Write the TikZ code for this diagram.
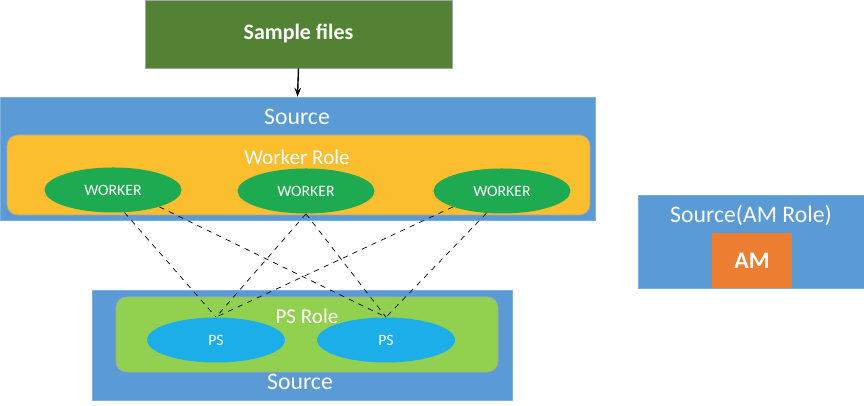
\documentclass[tikz,border=0pt]{standalone}
\usepackage{fontspec}
\setmainfont{Carlito}
\usepackage{xcolor}
\usepackage{tikz}
\usetikzlibrary{arrows.meta,positioning,shapes.geometric}
\definecolor{srcblue}{HTML}{5B9BD5}
\definecolor{filegreen}{HTML}{548235}
\definecolor{wrkgold}{HTML}{FBBE2E}
\definecolor{wrkgreen}{HTML}{1DAA50}
\definecolor{psgreen}{HTML}{92D050}
\definecolor{psblue}{HTML}{1CAEE9}
\definecolor{amorange}{HTML}{ED7D31}

\begin{document}
\begin{tikzpicture}[
      srcbox/.style={fill=srcblue, draw=srcblue!80!white, inner sep=0pt},
      rolebox/.style={draw=black!35, rounded corners=6pt, inner sep=0pt},
      wrk/.style={ellipse, fill=wrkgreen, inner sep=0pt,
                  minimum width=2.74cm, minimum height=0.9cm,
                  font=\fontsize{9}{10}\selectfont, text=white},
      ps/.style={ellipse, fill=psblue, inner sep=0pt,
                 minimum width=2.76cm, minimum height=0.9cm,
                 font=\fontsize{9}{10}\selectfont, text=white},
      lbl/.style={text=white, font=\fontsize{13.5}{15}\selectfont},
      link/.style={dashed, thin, black}
  ]
    \useasboundingbox (0,0) rectangle (17.28,8.12);
    % input files
    \node[draw=black!35, fill=filegreen, minimum width=6.14cm, minimum height=1.36cm,
          text=white, font=\fontsize{12.5}{14}\selectfont\bfseries] (files) at (5.97,7.44) {Sample files};
    % worker side
    \node[srcbox, minimum width=11.9cm, minimum height=2.46cm] (srcTop) at (5.95,4.95) {};
    \node[lbl] (srcTopLbl) at (5.94,5.78) {Source};
    \node[rolebox, fill=wrkgold, minimum width=11.66cm, minimum height=1.6cm] (wrkRole) at (5.97,4.62) {};
    \node[lbl, font=\fontsize{12}{14}\selectfont] (wrkRoleLbl) at (5.94,4.98) {Worker Role};
    \node[wrk] (w1) at (2.26,4.32)  {WORKER};
    \node[wrk] (w2) at (6.12,4.30)  {WORKER};
    \node[wrk] (w3) at (10.04,4.30) {WORKER};
    % ps side
    \node[srcbox, minimum width=8.4cm, minimum height=2.2cm] (srcBot) at (6.04,1.22) {};
    \node[lbl] (srcBotLbl) at (6.0,0.48) {Source};
    \node[rolebox, fill=psgreen, minimum width=7.64cm, minimum height=1.5cm] (psRole) at (6.14,1.43) {};
    \node[lbl, font=\fontsize{12}{14}\selectfont] (psRoleLbl) at (6.14,1.80) {PS Role};
    \node[ps] (p1) at (4.32,1.32) {PS};
    \node[ps] (p2) at (7.72,1.32) {PS};
    % am
    \node[srcbox, minimum width=4.52cm, minimum height=1.86cm] (srcAm) at (15.02,3.29) {};
    \node[lbl] (srcAmLbl) at (15.02,3.82) {Source(AM Role)};
    \node[fill=amorange, minimum width=1.6cm, minimum height=1.1cm, inner sep=0pt,
          text=white, font=\fontsize{13.5}{15}\selectfont\bfseries] (am) at (15.04,2.91) {AM};
    % links
    \draw[-{Stealth[length=5pt]}, thick] (files.south) -- (srcTop.north);
    \draw[link] (w1.-63)  -- (p1.north);
    \draw[link] (w1.-20)  -- (p2.north);
    \draw[link] (w2.south) -- (p1.north);
    \draw[link] (w2.south) -- (p2.north);
    \draw[link] (w3.-162) -- (p1.north);
    \draw[link] (w3.-125) -- (p2.north);
  \end{tikzpicture}
\end{document}
